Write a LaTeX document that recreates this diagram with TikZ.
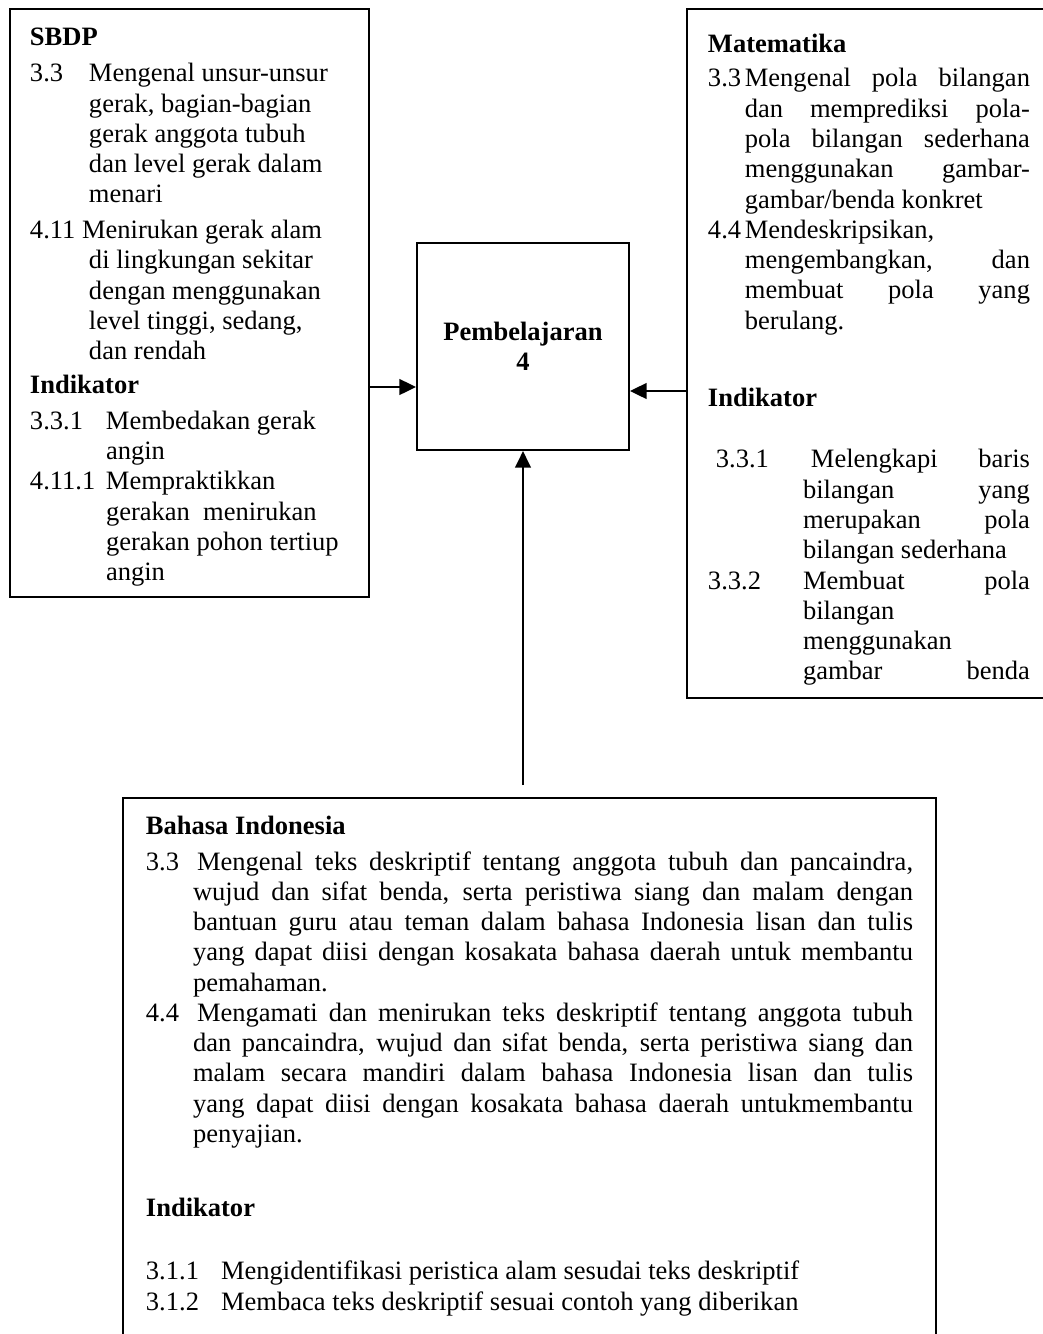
\documentclass[tikz,border=0pt]{standalone}
\usepackage{fontspec}
\setmainfont{Liberation Serif}
\usetikzlibrary{arrows.meta, positioning, calc}
\hbadness=10000

% one line of a box: justified (rata) or flush left (kiri)
\newcommand{\rata}[2]{\hbox to\linewidth{\strut\hspace*{#1}#2}}
\newcommand{\kiri}[2]{\hbox to\linewidth{\strut\hspace*{#1}#2\hfil}}
\newcommand{\nomor}[2]{\makebox[#1][l]{#2}}
\newcommand{\isi}[4]{\parbox[c][#2][t]{#1}{\fontsize{12}{13.7}\selectfont\vspace*{#3}#4}}

\begin{document}
\begin{tikzpicture}[x=0.4525pt,y=-0.4525pt,
  kotak/.style={draw, line width=0.9pt, inner ysep=0pt, anchor=north west},
  pusat/.style={draw, line width=0.9pt, minimum width=95.9pt, minimum height=93.7pt,
    align=center, font=\fontsize{12}{13.7}\selectfont\bfseries},
  panah/.style={-{Triangle[length=7.5pt,width=7pt]}, line width=1.2pt}]

\useasboundingbox (0,0) rectangle (1043,1334);
\fill[white] (0,0) rectangle (1043,1334);
\clip (0,0) rectangle (1043,1334);

% define the boxes
  \node[kotak, inner xsep=9.05pt] (sbdp) at (9,8)
{\isi{144.3pt}{266.1pt}{7.15pt}{%
\kiri{0pt}{\textbf{SBDP}}
\vspace{2.5pt}
\kiri{0pt}{\nomor{26.7pt}{3.3}Mengenal unsur-unsur}
\kiri{26.7pt}{gerak, bagian-bagian}
\kiri{26.7pt}{gerak anggota tubuh}
\kiri{26.7pt}{dan level gerak dalam}
\kiri{26.7pt}{menari}
\vspace{2.5pt}
\kiri{0pt}{4.11 Menirukan gerak alam}
\kiri{26.7pt}{di lingkungan sekitar}
\kiri{26.7pt}{dengan menggunakan}
\kiri{26.7pt}{level tinggi, sedang,}
\kiri{26.7pt}{dan rendah}
\vspace{1.5pt}
\kiri{0pt}{\textbf{Indikator}}
\vspace{2.5pt}
\kiri{0pt}{\nomor{34.4pt}{3.3.1}Membedakan gerak}
\kiri{34.4pt}{angin}
\kiri{0pt}{\nomor{34.4pt}{4.11.1}Mempraktikkan}
\kiri{34.4pt}{gerakan\ \ menirukan}
\kiri{34.4pt}{gerakan pohon tertiup}
\kiri{34.4pt}{angin}}};

  \node[kotak, inner xsep=9.5pt] (mat) at (686,8)
{\isi{145.7pt}{311.8pt}{9.87pt}{%
\kiri{0pt}{\textbf{Matematika}}
\vspace{2.1pt}
\rata{0pt}{\nomor{16.7pt}{3.3}Mengenal pola bilangan}
\rata{16.7pt}{dan memprediksi pola-}
\rata{16.7pt}{pola bilangan sederhana}
\rata{16.7pt}{menggunakan gambar-}
\kiri{16.7pt}{gambar/benda konkret}
\kiri{0pt}{\nomor{16.7pt}{4.4}Mendeskripsikan,}
\rata{16.7pt}{mengembangkan, dan}
\rata{16.7pt}{membuat pola yang}
\kiri{16.7pt}{berulang.}
\vspace{21.1pt}
\kiri{0pt}{\textbf{Indikator}}
\vspace{14.3pt}
\rata{0pt}{\nomor{43pt}{\hspace*{3.6pt}3.3.1}\hspace*{3.6pt}Melengkapi baris}
\rata{43pt}{bilangan yang}
\rata{43pt}{merupakan pola}
\kiri{43pt}{bilangan sederhana}
\rata{0pt}{\nomor{43pt}{3.3.2}Membuat pola}
\kiri{43pt}{bilangan}
\kiri{43pt}{menggunakan}
\rata{43pt}{gambar benda}}};

  \node[kotak, inner xsep=10.4pt] (bhs) at (122,797)
{\isi{347.1pt}{271.5pt}{6.7pt}{%
\kiri{0pt}{\textbf{Bahasa Indonesia}}
\vspace{2.6pt}
\rata{0pt}{\nomor{21.3pt}{3.3}\hspace*{1.8pt}Mengenal teks deskriptif tentang anggota tubuh dan pancaindra,}
\rata{21.3pt}{wujud dan sifat benda, serta peristiwa siang dan malam dengan}
\rata{21.3pt}{bantuan guru atau teman dalam bahasa Indonesia lisan dan tulis}
\rata{21.3pt}{yang dapat diisi dengan kosakata bahasa daerah untuk membantu}
\kiri{21.3pt}{pemahaman.}
\rata{0pt}{\nomor{21.3pt}{4.4}\hspace*{1.8pt}Mengamati dan menirukan teks deskriptif tentang anggota tubuh}
\rata{21.3pt}{dan pancaindra, wujud dan sifat benda, serta peristiwa siang dan}
\rata{21.3pt}{malam secara mandiri dalam bahasa Indonesia lisan dan tulis}
\rata{21.3pt}{yang dapat diisi dengan kosakata bahasa daerah untukmembantu}
\kiri{21.3pt}{penyajian.}
\vspace{19.9pt}
\kiri{0pt}{\textbf{Indikator}}
\vspace{14.8pt}
\kiri{0pt}{\nomor{34pt}{3.1.1}Mengidentifikasi peristica alam sesudai teks deskriptif}
\kiri{0pt}{\nomor{34pt}{3.1.2}Membaca teks deskriptif sesuai contoh yang diberikan}}};

  \node[pusat] (pb) at (523,346.5) {Pembelajaran\\4};

% define the links
  \coordinate (masukKiri) at ($(pb.west)+(0,40.5)$);
  \coordinate (masukKanan) at ($(pb.east)+(0,44.5)$);
  \coordinate (pangkalBawah) at ($(pb.south |- bhs.north)+(0,-12)$);
  \draw[panah] (sbdp.east |- masukKiri) -- (masukKiri);
  \draw[panah] (mat.west |- masukKanan) -- (masukKanan);
  \draw[panah] (pangkalBawah) -- (pb.south);

\end{tikzpicture}
\end{document}
